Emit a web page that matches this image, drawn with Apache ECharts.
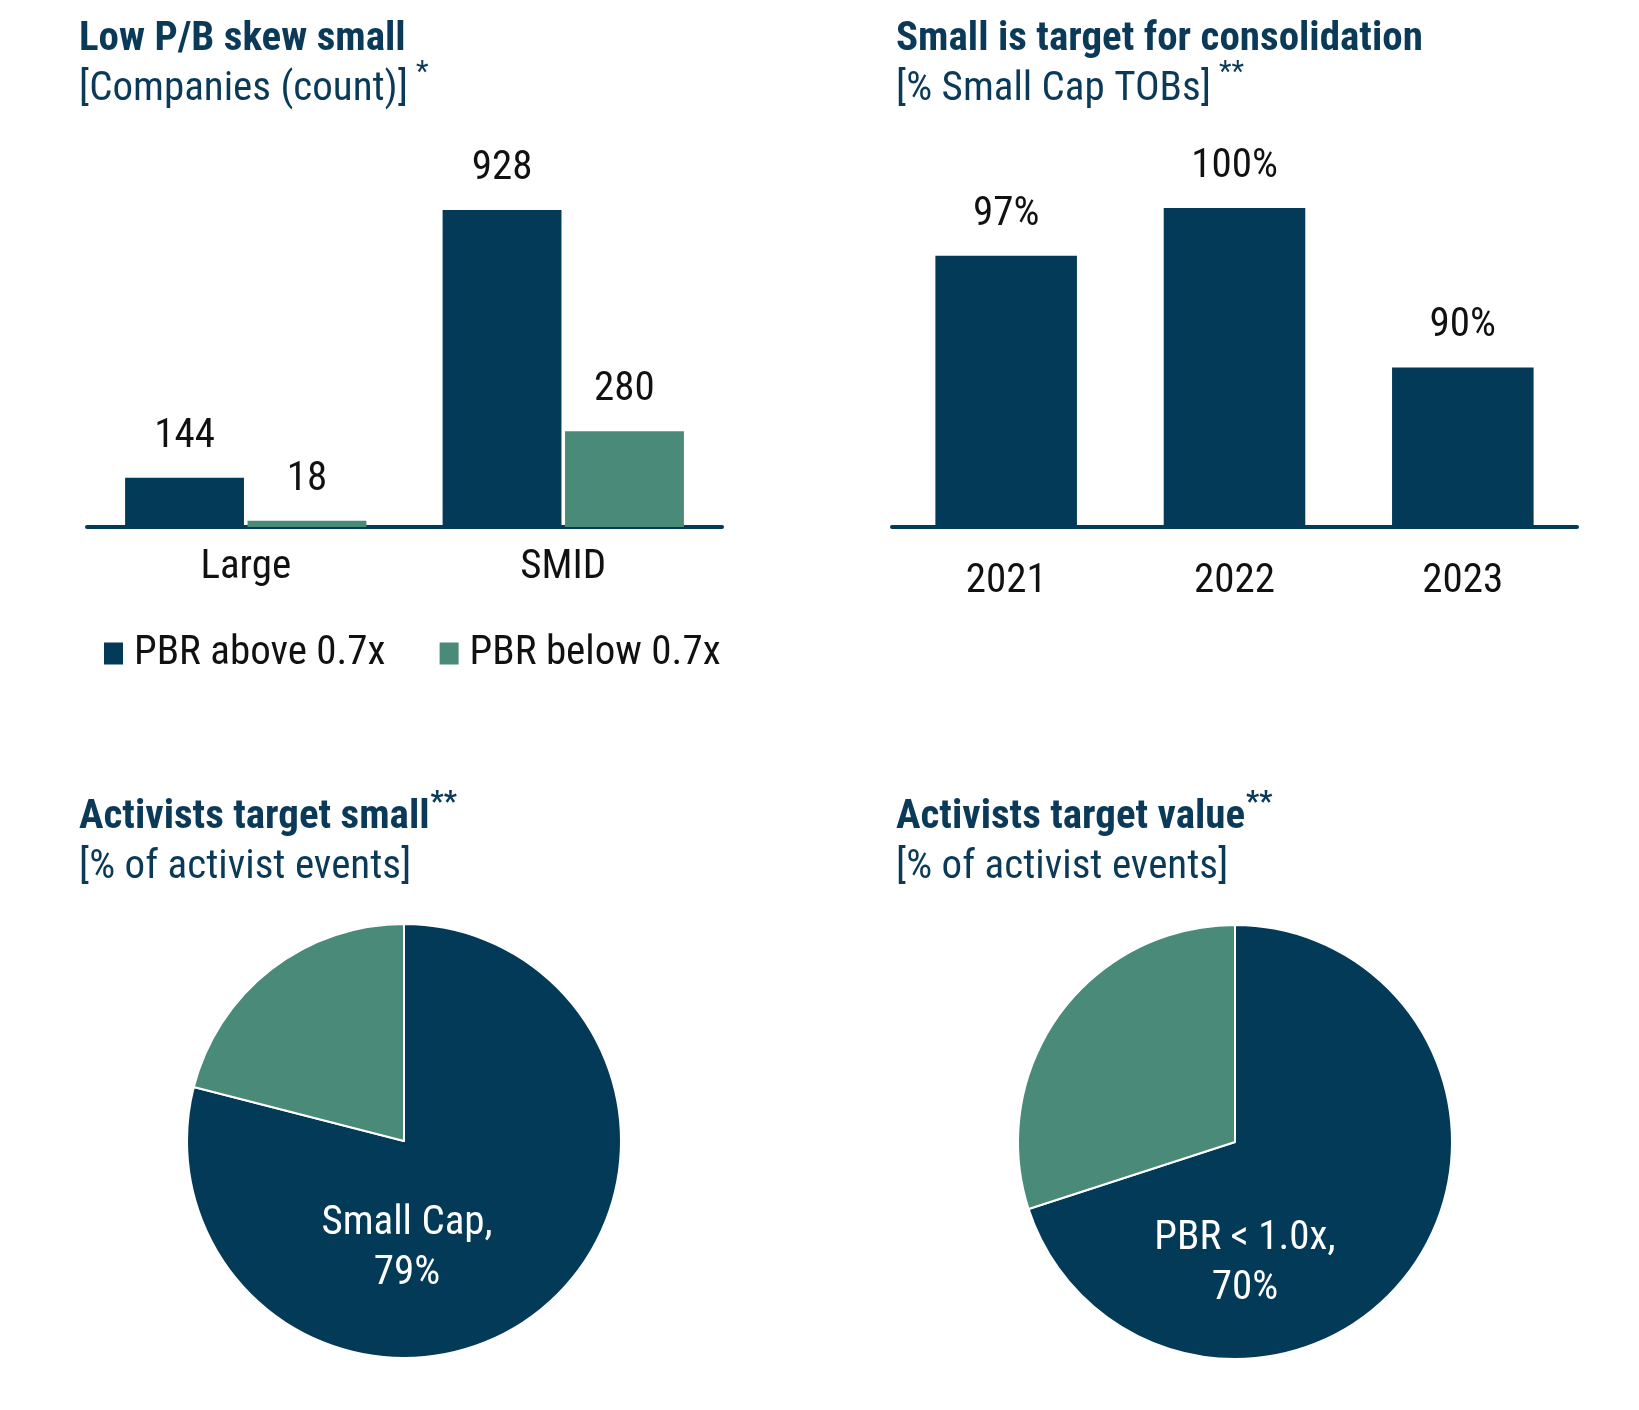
<!DOCTYPE html>
<html>
<head>
<meta charset="utf-8">
<script src="https://cdn.jsdelivr.net/npm/echarts@6/dist/echarts.min.js"></script>
<style>
html,body{margin:0;padding:0;background:#fff;}
#c{width:1639px;height:1410px;}
</style>
</head>
<body>
<div id="c"></div>
<script>
// ---- data ----
const capCategories = ['Large', 'SMID'];
const seriesNames = ['PBR above 0.7x', 'PBR below 0.7x'];
const pbrAbove = [144, 928];
const pbrBelow = [18, 280];

const years = ['2021', '2022', '2023'];
const smallCapTobPct = [97, 100, 90];

const activistSizeNames = ['Small Cap', 'Other'];
const activistSizeValues = [79, 21];

const activistValueNames = ['PBR < 1.0x', 'PBR \u2265 1.0x'];
const activistValueValues = [70, 30];

// ---- style ----
const NAVY = '#033a57';
const GREEN = '#4a8a78';
const TITLE = '#0b3a58';
const FONT = "'Roboto Condensed', Roboto, sans-serif";
const FS = 41;

function titleRich(l1, l2) {
  return {
    t: { fontFamily: FONT, fontSize: FS, fontWeight: 'bold', color: TITLE, lineHeight: l1 },
    s: { fontFamily: FONT, fontSize: FS, fontWeight: 'normal', color: TITLE, lineHeight: l2 },
    sup: { fontFamily: FONT, fontSize: 29, fontWeight: 'normal', color: TITLE, verticalAlign: 'top', padding: [0, 0, 0, 8] },
    supb: { fontFamily: FONT, fontSize: 29, fontWeight: 'bold', color: TITLE, verticalAlign: 'top', padding: [0, 0, 0, 1] }
  };
}

function mkTitle(text, left, top, l1, l2) {
  return { text: text, left: left, top: top, padding: 0, textStyle: { rich: titleRich(l1, l2) } };
}

const chart = echarts.init(document.getElementById('c'));

const barLabel = {
  show: true, position: 'top', distance: 21,
  fontFamily: FONT, fontSize: FS, color: '#111'
};

function pieLabel(spacer, shift) {
  return {
    show: true, position: 'center',
    formatter: '{sp|}\n{n|{b},}\n{n|{c}%}',
    rich: {
      sp: { lineHeight: spacer, fontSize: 10 },
      n: { fontFamily: FONT, fontSize: FS, color: '#fff', lineHeight: 50, padding: [0, 0, 0, shift] }
    }
  };
}

const option = {
  backgroundColor: '#fff',
  animation: false,
  title: [
    mkTitle('{t|Low P/B skew small}\n{s|[Companies (count)]}{sup|*}', 79, 21, 38, 62),
    mkTitle('{t|Small is target for consolidation}\n{s|[% Small Cap TOBs]}{sup|**}', 896, 21, 38, 62),
    mkTitle('{t|Activists target small}{supb|**}\n{s|[% of activist events]}', 79, 789, 58, 42),
    mkTitle('{t|Activists target value}{supb|**}\n{s|[% of activist events]}', 896, 789, 58, 42)
  ],
  legend: {
    data: seriesNames,
    left: 99, top: 628,
    icon: 'rect', itemWidth: 19, itemHeight: 22, itemGap: 54,
    textStyle: { fontFamily: FONT, fontSize: FS, color: '#111', padding: [0, 0, 0, 6] },
    selectedMode: false
  },
  grid: [
    { left: 87, top: 210, width: 635, height: 317 },
    { left: 892, top: 208, width: 685, height: 319 }
  ],
  xAxis: [
    {
      type: 'category', gridIndex: 0, data: capCategories,
      axisLine: { lineStyle: { color: NAVY, width: 4 } },
      axisTick: { show: false },
      axisLabel: { fontFamily: FONT, fontSize: FS, color: '#111', margin: 20 }
    },
    {
      type: 'category', gridIndex: 1, data: years,
      axisLine: { lineStyle: { color: NAVY, width: 4 } },
      axisTick: { show: false },
      axisLabel: { fontFamily: FONT, fontSize: FS, color: '#111', margin: 34 }
    }
  ],
  yAxis: [
    { type: 'value', gridIndex: 0, min: 0, max: 'dataMax', show: false },
    { type: 'value', gridIndex: 1, min: 80, max: 100, show: false }
  ],
  series: [
    {
      name: seriesNames[0], type: 'bar', xAxisIndex: 0, yAxisIndex: 0,
      data: pbrAbove, itemStyle: { color: NAVY },
      barGap: '3%', barCategoryGap: '24%',
      label: barLabel
    },
    {
      name: seriesNames[1], type: 'bar', xAxisIndex: 0, yAxisIndex: 0,
      data: pbrBelow, itemStyle: { color: GREEN },
      barGap: '3%', barCategoryGap: '24%',
      label: barLabel
    },
    {
      name: 'Small Cap TOBs', type: 'bar', xAxisIndex: 1, yAxisIndex: 1,
      data: smallCapTobPct, itemStyle: { color: NAVY },
      barCategoryGap: '38%',
      label: Object.assign({}, barLabel, { formatter: '{c}%' })
    },
    {
      name: 'Activists target small', type: 'pie',
      center: [404, 1141], radius: 217, startAngle: 90, clockwise: true,
      avoidLabelOverlap: false,
      itemStyle: { borderColor: '#fff', borderWidth: 2 },
      emphasis: { disabled: true },
      labelLine: { show: false },
      data: activistSizeNames.map((n, i) => ({
        name: n, value: activistSizeValues[i],
        itemStyle: { color: i === 0 ? NAVY : GREEN },
        label: i === 0 ? pieLabel(216, 6) : { show: false }
      }))
    },
    {
      name: 'Activists target value', type: 'pie',
      center: [1235, 1142], radius: 217, startAngle: 90, clockwise: true,
      avoidLabelOverlap: false,
      itemStyle: { borderColor: '#fff', borderWidth: 2 },
      emphasis: { disabled: true },
      labelLine: { show: false },
      data: activistValueNames.map((n, i) => ({
        name: n, value: activistValueValues[i],
        itemStyle: { color: i === 0 ? NAVY : GREEN },
        label: i === 0 ? pieLabel(244, 20) : { show: false }
      }))
    }
  ]
};

chart.setOption(option);
</script>
</body>
</html>
